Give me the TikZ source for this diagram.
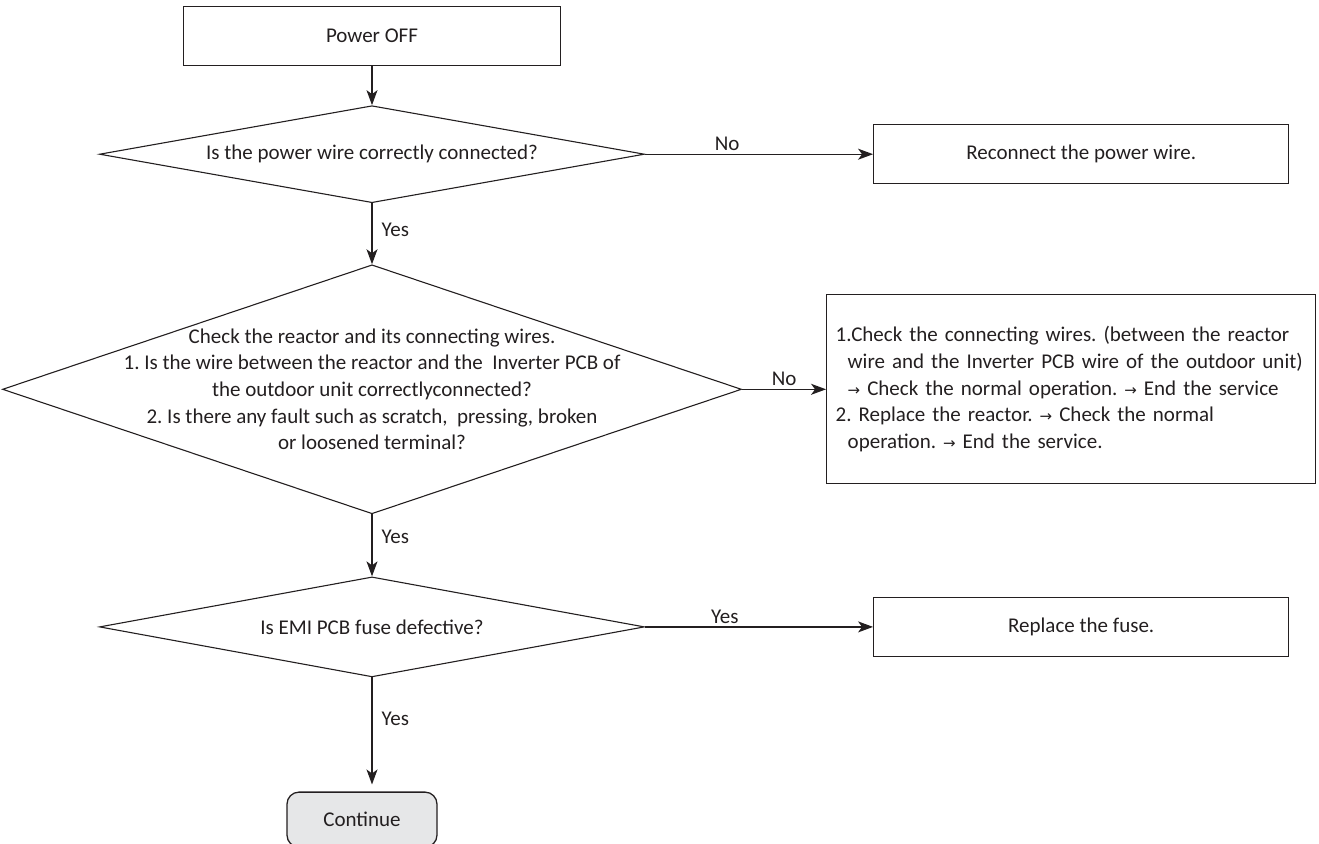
\documentclass[tikz,border=0pt]{standalone}
\usepackage{fontspec}
\setmainfont{Carlito}
\newfontfamily\symfont{DejaVu Sans}
\usetikzlibrary{arrows.meta,positioning,shapes.geometric}
\definecolor{ink}{RGB}{35,31,32}
\definecolor{endfill}{RGB}{230,231,232}
\newcommand{\rarr}{{\symfont\fontsize{15}{15}\selectfont →}}

\begin{document}
\begin{tikzpicture}[x=1pt,y=-1pt,font=\fontsize{21}{26.7}\selectfont\frenchspacing,text=ink,
  box/.style={draw=ink,line width=1.3pt,minimum height=59pt,inner sep=0pt},
  q/.style={draw=ink,diamond,line width=1.1pt,inner sep=2pt,shape aspect=5.6,
            minimum width=545pt,minimum height=97pt},
  base/.style={-{Stealth[length=15pt,width=11pt,inset=4pt]},line width=1.2pt,draw=ink},
  lbl/.style={inner sep=3pt}]
  \useasboundingbox (0,0) rectangle (1319,843);
  \node[box,minimum width=377pt] (off) at (372,36) {Power OFF};
  \node[q,below=39pt of off] (q1) {Is the power wire correctly connected?};
  \node[box,minimum width=415pt,right=228pt of q1] (a1) {Reconnect the power wire.};
  \node[q,below=61pt of q1,minimum width=739pt,minimum height=249pt] (q2) {};
  \node[align=center,inner sep=0pt] (q2txt) at (q2) {Check the reactor and its connecting wires.\\
    1. Is the wire between the reactor and the\ \ Inverter PCB of\\
    the outdoor unit correctlyconnected?\\
    2. Is there any fault such as scratch,\ \ pressing, broken\\
    or loosened terminal?};
  \node[box,right=84pt of q2,minimum width=489pt,minimum height=189pt,
        inner xsep=9pt,text width=471pt,align=left] (a2) {1.Check the connecting wires. (between the reactor\\
    \hspace*{12pt}wire and the Inverter PCB wire of the outdoor unit)\\
    \hspace*{12pt}\rarr{} Check the normal operation. \rarr{} End the service\\
    2. Replace the reactor. \rarr{} Check the normal\\
    \hspace*{12pt}operation. \rarr{} End the service.};
  \node[q,below=62pt of q2,minimum height=100pt] (q3) {Is EMI PCB fuse defective?};
  \node[box,minimum width=415pt,right=228pt of q3] (a3) {Replace the fuse.};
  \node[box,below=114pt of q3,xshift=-10pt,minimum width=150pt,minimum height=55pt,
        rounded corners=12pt,fill=endfill] (cont) {Continue};
  \draw[base] (off) -- (q1);
  \draw[base] (q1) -- node[lbl,above,pos=0.36]{No} (a1);
  \draw[base] (q1) -- node[lbl,right=6pt,pos=0.44]{Yes} (q2);
  \draw[base] (q2) -- node[lbl,above,pos=0.5]{No} (a2);
  \draw[base] (q2) -- node[lbl,right=6pt,pos=0.37]{Yes} (q3);
  \draw[base] (q3) -- node[lbl,above,pos=0.35]{Yes} (a3);
  \draw[base] (q3) -- node[lbl,right=6pt,pos=0.39]{Yes} ([yshift=7pt]q3.south |- cont.north);
\end{tikzpicture}
\end{document}
